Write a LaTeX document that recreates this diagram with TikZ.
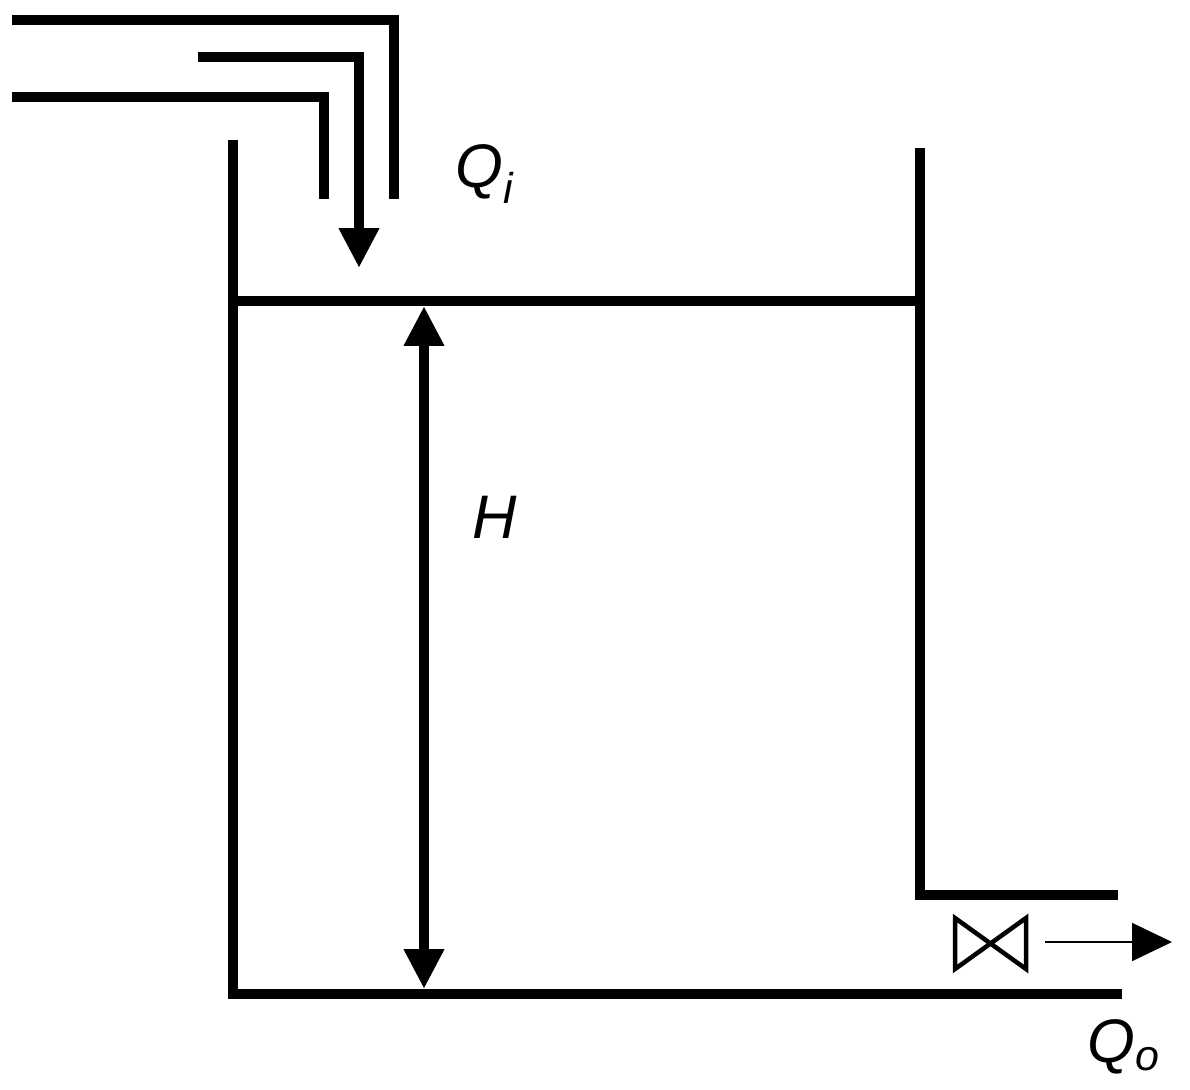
\documentclass[tikz,border=0pt]{standalone}
\usepackage{fontspec}
\setmainfont{Liberation Sans}
\usetikzlibrary{arrows.meta}

\begin{document}
\begin{tikzpicture}[
    x=0.02cm, y=-0.02cm,
    wall/.style={draw, line width=0.2cm},
    flow/.style={wall, -{Triangle[length=0.8cm,width=0.76cm]}},
    level/.style={wall, {Triangle[length=0.8cm,width=0.76cm]}-{Triangle[length=0.8cm,width=0.76cm]}},
    outflow/.style={draw, line width=0.04cm, -{Triangle[length=0.8cm,width=0.76cm]}},
    valve/.style={draw, line width=0.09cm, miter limit=3},
    label/.style={font=\fontsize{35}{35}\selectfont\itshape, inner sep=0pt}
]
\useasboundingbox (0,0) rectangle (1190,1089);

% inlet pipe
\coordinate (pipeUpA) at (12,19.5);
\coordinate (pipeUpB) at (394,19.5);
\coordinate (pipeUpC) at (394,199);
\coordinate (pipeLowA) at (12,97);
\coordinate (pipeLowB) at (324,97);
\coordinate (pipeLowC) at (324,199);
\draw[wall] (pipeUpA) -- (pipeUpB) -- (pipeUpC);
\draw[wall] (pipeLowA) -- (pipeLowB) -- (pipeLowC);

% inlet flow
\coordinate (inA) at (198,57);
\coordinate (inB) at (359,57);
\coordinate (inC) at (359,268);
\draw[flow] (inA) -- (inB) -- (inC);

% tank
\coordinate (wallLeftTop) at (233,140);
\coordinate (wallLeftBot) at (233,999);
\coordinate (floorEnd) at (1122,994);
\coordinate (floorStart) at (228,994);
\coordinate (wallRightTop) at (920,148);
\coordinate (wallRightBot) at (920,895);
\coordinate (outEnd) at (1118,895);
\draw[wall] (wallLeftTop) -- (wallLeftBot);
\draw[wall] (floorStart) -- (floorEnd);
\draw[wall] (wallRightTop) -- (wallRightBot) -- (outEnd);

% liquid level
\coordinate (surfL) at (233,301);
\coordinate (surfR) at (920,301);
\draw[wall] (surfL) -- (surfR);
\coordinate (levelTop) at (424,306);
\coordinate (levelBot) at (424,989);
\draw[level] (levelTop) -- (levelBot);

% valve and outlet
\coordinate (valveA) at (955,918);
\coordinate (valveB) at (1026,969);
\coordinate (valveC) at (1026,918);
\coordinate (valveD) at (955,969);
\draw[valve] (valveA) -- (valveB) -- (valveC) -- (valveD) -- cycle;
\coordinate (qoStart) at (1045,942);
\coordinate (qoEnd) at (1172,942);
\draw[outflow] (qoStart) -- (qoEnd);

\node[label] (qi) at (485,174) {Q\textsubscript{i}};
\node[label] (height) at (495,517) {H};
\node[label] (qo) at (1124,1047) {Q\textsubscript{o}};
\end{tikzpicture}
\end{document}
